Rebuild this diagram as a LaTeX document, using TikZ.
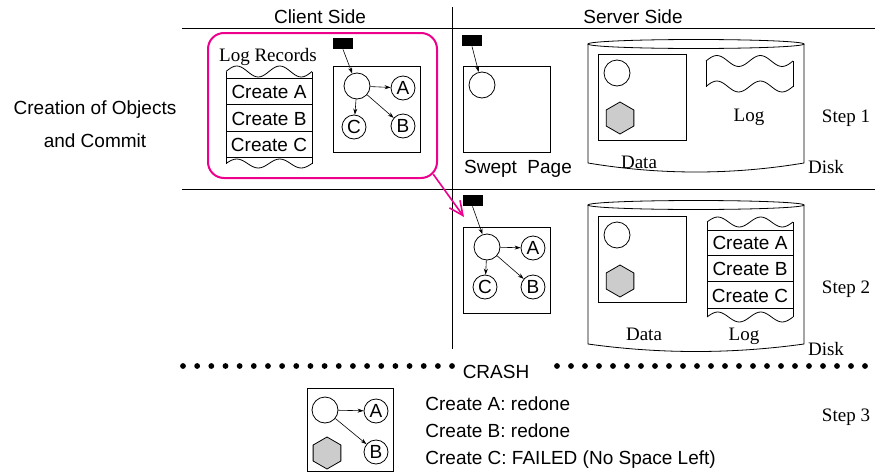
\documentclass[tikz,border=0pt]{standalone}
\usepackage{fontspec}
\setmainfont{Liberation Serif}
\setsansfont{Liberation Sans}
\usetikzlibrary{shapes.geometric,arrows.meta,calc}
\begin{document}
\begin{tikzpicture}[x=1pt,y=-1pt, line width=0.8pt,
  every node/.style={font=\fontsize{19}{22}\selectfont},
  sf/.style={font=\fontsize{19}{22}\selectfont\sffamily},
  rm/.style={font=\fontsize{19}{22}\selectfont\rmfamily},
  obj/.style={draw, circle, inner sep=0pt, minimum size=26pt},
  lett/.style={draw, circle, inner sep=0pt, minimum size=24pt, sf},
  hexa/.style={draw, regular polygon, regular polygon sides=6, shape border rotate=30, minimum size=32pt, inner sep=0pt, fill=gray!40},
  blk/.style={fill=black, minimum width=20pt, minimum height=11pt, inner sep=0pt},
  garrow/.style={-{Stealth[length=6pt,width=4pt]}, line width=0.6pt},
  frame/.style={draw, line width=0.8pt},
  dotrow/.style={fill=black},
]
\useasboundingbox (0,0) rectangle (875,474);

% dividers
\draw (182,28) -- (875,28);
\draw (182,189) -- (875,189);
\draw (452,7) -- (452,349);

% headings
\node[sf, anchor=base] (client) at (320,23) {Client Side};
\node[sf, anchor=base] (server) at (633,23) {Server Side};
\node[sf, anchor=base] (crea1) at (95,114) {Creation of Objects};
\node[sf, anchor=base] (crea2) at (95,147) {and Commit};

% ---------- Step 1 client ----------
\node[draw=magenta, line width=2pt, rounded corners=16pt, minimum width=229pt, minimum height=145pt, inner sep=0pt] (mbox) at (322.5,105.5) {};
\node[rm, anchor=base] (logrec) at (268,61) {Log Records};
% log strip
\draw plot[domain=0:1, samples=41, smooth] ({226+86*\x},{71.5-5.5*sin(720*\x)});
\draw plot[domain=0:1, samples=41, smooth] ({226+86*\x},{163.5-4.5*sin(720*\x)});
\draw (226,71.5) -- (226,163.5);
\draw (312,71.5) -- (312,163.5);
\draw (226,78) -- (312,78);
\draw (226,104) -- (312,104);
\draw (226,131) -- (312,131);
\draw (226,157) -- (312,157);
\node[sf, anchor=base] (c1a) at (269,98) {Create A};
\node[sf, anchor=base] (c1b) at (269,125) {Create B};
\node[sf, anchor=base] (c1c) at (269,151) {Create C};
% graph
\draw (333,66) rectangle (420,152);
\node[blk] (blk1) at (343,43.5) {};
\node[obj] (r1) at (357,86) {};
\node[lett] (a1) at (403,88) {A};
\node[lett] (cc1) at (354,127) {C};
\node[lett] (b1) at (403,126) {B};
\draw[garrow] (blk1.south) -- (r1);
\draw[garrow] (r1) -- (a1);
\draw[garrow] (r1) -- (cc1);
\draw[garrow] (r1) -- (b1);

% ---------- Step 1 server ----------
\node[blk] (blk2) at (472,40.5) {};
\draw (463,66) rectangle (550,152);
\node[obj] (r2) at (482,85) {};
\draw[garrow] (blk2.south) -- (r2);
\node[sf, anchor=base] (swept) at (518,173) {Swept\ \ Page};
% disk 1
\draw (696,44) ellipse [x radius=108pt, y radius=4.5pt];
\draw (588,44) -- (588,163) .. controls (660,175) and (732,175) .. (804,163) -- (804,44);
\draw (598,54) rectangle (686,140);
\node[obj] (d1o) at (617,73) {};
\node[hexa] (d1h) at (620,118) {};
\draw plot[domain=0:1, samples=41, smooth] ({706+87*\x},{61-5.5*sin(720*\x)});
\draw plot[domain=0:1, samples=41, smooth] ({706+87*\x},{86.5-5.5*sin(720*\x)});
\draw (706,61) -- (706,86.5);
\draw (793,61) -- (793,86.5);
\node[rm, anchor=base] (log1) at (749,121) {Log};
\node[rm, anchor=base] (data1) at (639,168) {Data};
\node[rm, anchor=base] (disk1) at (826,173) {Disk};
\node[rm, anchor=base] (step1) at (846,122) {Step 1};

% magenta arrow
\coordinate (mtip) at (464,217);
\draw[magenta, line width=1.6pt, -{Straight Barb[length=14pt,width=13pt]}] ($(mbox.south east)+(-4.7,-4.7)$) -- (mtip);

% ---------- Step 2 ----------
\node[blk] (blk3) at (472.5,200.5) {};
\draw (463,227) rectangle (550,313);
\node[obj] (r3) at (487,247) {};
\node[lett] (a3) at (533,248) {A};
\node[lett] (cc3) at (485,287) {C};
\node[lett] (b3) at (533,287) {B};
\draw[garrow] (blk3.south) -- (r3);
\draw[garrow] (r3) -- (a3);
\draw[garrow] (r3) -- (cc3);
\draw[garrow] (r3) -- (b3);
% disk 2
\draw (696,205) ellipse [x radius=108pt, y radius=4.5pt];
\draw (588,205) -- (588,344) .. controls (660,354) and (732,354) .. (804,344) -- (804,205);
\draw (598,216) rectangle (686,302);
\node[obj] (d2o) at (617,235) {};
\node[hexa] (d2h) at (620,281) {};
\draw plot[domain=0:1, samples=41, smooth] ({707+86*\x},{222-5*sin(720*\x)});
\draw plot[domain=0:1, samples=41, smooth] ({707+86*\x},{317-5*sin(720*\x)});
\draw (707,222) -- (707,317);
\draw (793,222) -- (793,317);
\draw (707,230) -- (793,230);
\draw (707,255) -- (793,255);
\draw (707,281) -- (793,281);
\draw (707,308) -- (793,308);
\node[sf, anchor=base] (c2a) at (750,249) {Create A};
\node[sf, anchor=base] (c2b) at (750,275) {Create B};
\node[sf, anchor=base] (c2c) at (750,302) {Create C};
\node[rm, anchor=base] (data2) at (644,340) {Data};
\node[rm, anchor=base] (log2) at (744,340) {Log};
\node[rm, anchor=base] (disk2) at (826,355) {Disk};
\node[rm, anchor=base] (step2) at (846,293) {Step 2};

% ---------- crash line ----------
\foreach \k in {0,...,19} \fill[dotrow] ({183+14.16*\k},366) circle[radius=2.9pt];
\foreach \k in {0,...,22} \fill[dotrow] ({557+14*\k},366) circle[radius=2.9pt];
\node[sf, anchor=base] (crash) at (496,378) {CRASH};

% ---------- Step 3 ----------
\draw (307,388) rectangle (393,471);
\node[obj] (r4) at (325,410) {};
\node[lett] (a4) at (376,411) {A};
\node[lett] (b4) at (376,452) {B};
\node[hexa] (h4) at (327,453) {};
\draw[garrow] (r4) -- (a4);
\draw[garrow] (r4) -- (b4);
\node[sf, anchor=base west, inner sep=0pt] (t1) at (425,410) {Create A: redone};
\node[sf, anchor=base west, inner sep=0pt] (t2) at (425,437) {Create B: redone};
\node[sf, anchor=base west, inner sep=0pt] (t3) at (425,464) {Create C: FAILED (No Space Left)};
\node[rm, anchor=base] (step3) at (846,421) {Step 3};
\end{tikzpicture}
\end{document}
